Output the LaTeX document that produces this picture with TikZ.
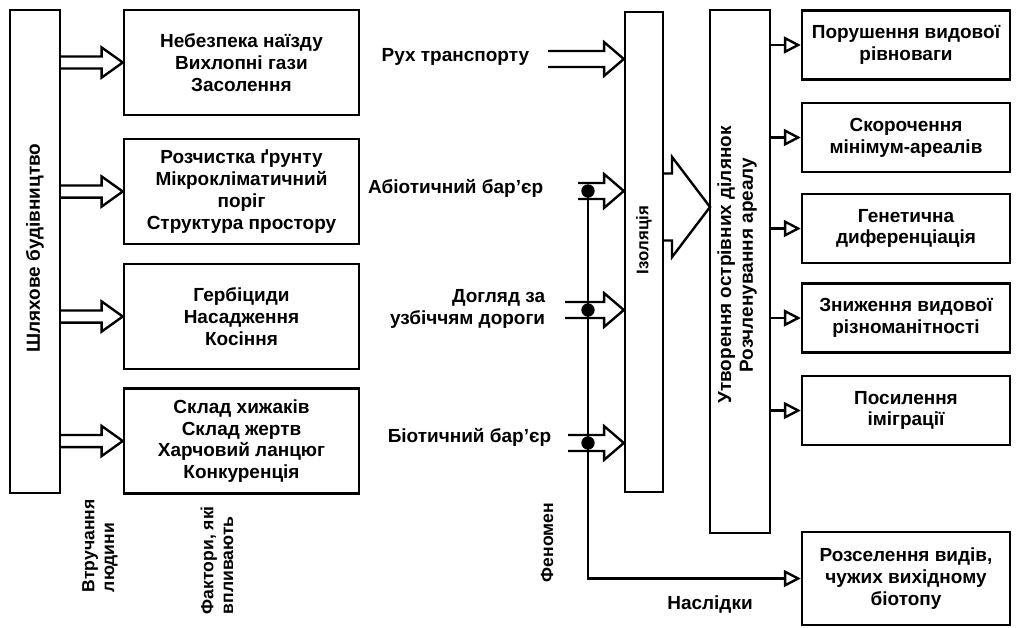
\documentclass[tikz,border=0pt]{standalone}
\usepackage{fontspec}
\setmainfont{Liberation Sans}
\usetikzlibrary{arrows.meta,calc}

\begin{document}
\begin{tikzpicture}[
    x=0.025cm, y=-0.025cm,
    font=\bfseries\fontsize{13.5}{15.5}\selectfont,
    >={Triangle[open, length=12pt, width=12pt]},
    line width=1.7pt,
    barbox/.style 2 args={draw, minimum width=#1, minimum height=#2, inner sep=0pt},
    factorbox/.style={draw, minimum width=5.875cm, minimum height=2.625cm, align=center},
    effectbox/.style={draw, minimum width=5.2cm, minimum height=1.725cm, align=center},
    sidelabel/.style={rotate=90, anchor=west, align=left, font=\bfseries\fontsize{12.5}{14}\selectfont},
    phenlabel/.style={anchor=east, align=right},
    joint/.style={circle, fill, inner sep=0pt, minimum width=8.5pt, minimum height=9.5pt},
    hollowarrow/.style n args={3}{to path={let \p1=(\tikztostart), \p2=(\tikztotarget) in
        (\x1,\y2+#1) -- (\x2-#3,\y2+#1) -- (\x2-#3,\y2+#2) -- (\x2,\y2)
        -- (\x2-#3,\y2-#2) -- (\x2-#3,\y2-#1) -- (\x1,\y2-#1)}}
]
\useasboundingbox (0,0) rectangle (1017,627);

\node[barbox={1.25cm}{12.075cm}] (road) at (35,251.5) {};
\node[rotate=90] (roadtext) at (35,248) {Шляхове будівництво};

\node[factorbox] (f1) at (241.5,62.5) {Небезпека наїзду\\Вихлопні гази\\Засолення};
\node[factorbox] (f2) at (241.5,191.5) {Розчистка ґрунту\\Мікрокліматичний\\поріг\\Структура простору};
\node[factorbox] (f3) at (241.5,316.5) {Гербіциди\\Насадження\\Косіння};
\node[factorbox] (f4) at (241.5,441) {Склад хижаків\\Склад жертв\\Харчовий ланцюг\\Конкуренція};

\foreach \f in {f1,f2,f3,f4}
  \draw[hollowarrow={4.3pt}{10.7pt}{15pt}] (road.east |- \f.west) to (\f.west);

\node[sidelabel] (human) at (100,598) {Втручання\\людини};
\node[sidelabel] (factors) at (217,620) {Фактори, які\\впливають};

\node[barbox={0.95cm}{12cm}] (iso) at (644,252) {};
\node[rotate=90, font=\bfseries\fontsize{12}{14}\selectfont] (isotext) at (644,240) {Ізоляція};

\node[phenlabel] (traffic) at (535,57) {Рух транспорту};
\node[phenlabel] (abiotic) at (549,188) {Абіотичний бар’єр};
\node[phenlabel] (care) at (551,309) {Догляд за\\узбіччям дороги};
\node[phenlabel] (biotic) at (557,437) {Біотичний бар’єр};

\coordinate (trtail) at (548,59);
\coordinate (abtail) at (578,191);
\coordinate (catail) at (565,310);
\coordinate (bitail) at (568,443);
\node[joint] (abdot) at (588,191) {};
\node[joint] (cadot) at (588,310) {};
\node[joint] (bidot) at (588,443) {};

\foreach \t in {trtail,abtail,catail,bitail}
  \draw[hollowarrow={5.7pt}{12pt}{14pt}] (\t) to (iso.west |- \t);

\node[barbox={1.5cm}{13.075cm}] (frag) at (740,271.5) {};
\node[rotate=90, align=center] (fragtext) at (737,265) {Утворення острівних ділянок\\Розчленування ареалу};

\coordinate (bigtip) at (710,207);
\draw[hollowarrow={23.8pt}{35.6pt}{27pt}] (iso.east |- bigtip) to (bigtip);

\node[effectbox] (e1) at (906,45) {Порушення видової\\рівноваги};
\node[effectbox] (e2) at (906,137.5) {Скорочення\\мінімум-ареалів};
\node[effectbox] (e3) at (906,228.5) {Генетична\\диференціація};
\node[effectbox] (e4) at (906,318) {Зниження видової\\різноманітності};
\node[effectbox] (e5) at (906,410.5) {Посилення\\іміграції};
\node[effectbox, minimum height=2.325cm] (e6) at (906,578.5) {Розселення видів,\\чужих вихідному\\біотопу};

\foreach \e in {e1,e2,e3,e4,e5}
  \draw[->] (frag.east |- \e.west) -- (\e.west);

\draw[->] (abdot.center) |- (e6.west);

\node[sidelabel] (phenom) at (547,588) {Феномен};
\node (result) at (710,604) {Наслідки};
\end{tikzpicture}
\end{document}
